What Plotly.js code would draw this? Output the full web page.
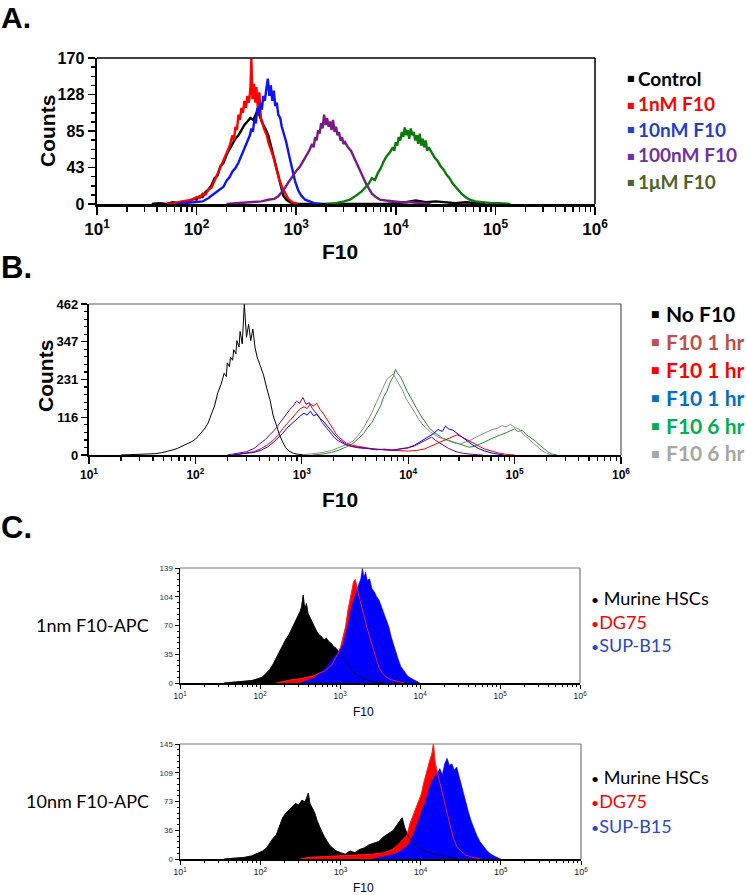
<!DOCTYPE html>
<html>
<head>
<meta charset="utf-8">
<script src="https://cdn.plot.ly/plotly-3.0.1.min.js"></script>
<style>html,body{margin:0;padding:0;background:#fff;}#chart{width:746px;height:895px;}</style>
</head>
<body>
<div id="chart"></div>
<script>
// ---------- DATA (x = log10(F10), y = counts) ----------
// Panel A
const A_control = [[1.55,0],[1.62,1],[1.70,0],[1.76,2],[1.82,1],[1.88,3],[1.94,4],[1.97,6],[2.00,5],[2.03,9],[2.06,8],[2.09,14],[2.12,17],[2.15,22],[2.18,30],[2.21,33],[2.24,44],[2.27,48],[2.30,57],[2.33,64],[2.36,70],[2.39,76],[2.42,80],[2.45,86],[2.48,92],[2.51,96],[2.54,100],[2.57,98],[2.60,106],[2.63,104],[2.66,94],[2.69,88],[2.72,80],[2.75,66],[2.78,52],[2.81,36],[2.84,22],[2.87,10],[2.90,5],[2.94,2],[3.00,0],[3.90,0],[4.00,1],[4.10,2],[4.20,4],[4.30,2],[4.40,3],[4.50,2],[4.60,1],[4.70,2],[4.80,1],[4.90,0]];
const A_1nM = [[1.70,0],[1.78,1],[1.85,3],[1.92,4],[1.97,6],[2.00,8],[2.03,7],[2.06,12],[2.09,11],[2.12,17],[2.15,19],[2.18,27],[2.21,33],[2.24,41],[2.27,49],[2.30,58],[2.33,67],[2.36,80],[2.375,74],[2.39,90],[2.405,86],[2.42,104],[2.435,98],[2.45,112],[2.465,106],[2.48,120],[2.495,112],[2.51,126],[2.525,118],[2.54,134],[2.55,169],[2.56,122],[2.575,140],[2.59,118],[2.60,136],[2.615,112],[2.63,130],[2.645,100],[2.66,96],[2.675,88],[2.69,84],[2.705,80],[2.72,72],[2.735,68],[2.75,62],[2.77,55],[2.80,40],[2.83,28],[2.86,19],[2.89,12],[2.92,6],[2.96,2],[3.02,0]];
const A_10nM = [[1.80,0],[1.90,1],[2.00,2],[2.06,3],[2.12,7],[2.18,12],[2.24,18],[2.27,20],[2.30,27],[2.33,31],[2.36,38],[2.39,42],[2.42,48],[2.45,56],[2.48,64],[2.51,72],[2.535,80],[2.55,88],[2.565,84],[2.58,98],[2.595,94],[2.61,112],[2.625,104],[2.64,118],[2.655,110],[2.67,126],[2.685,120],[2.70,134],[2.715,146],[2.73,126],[2.745,138],[2.76,120],[2.775,132],[2.79,114],[2.805,118],[2.82,104],[2.84,100],[2.855,90],[2.87,84],[2.885,78],[2.90,72],[2.93,56],[2.96,40],[2.99,26],[3.02,16],[3.05,10],[3.09,5],[3.13,3],[3.18,1],[3.25,0]];
const A_100nM = [[2.30,0],[2.45,1],[2.55,2],[2.65,3],[2.72,5],[2.78,6],[2.82,9],[2.86,14],[2.89,19],[2.92,25],[2.95,30],[2.98,36],[3.01,40],[3.04,44],[3.07,50],[3.10,55],[3.13,62],[3.16,70],[3.175,66],[3.19,78],[3.205,74],[3.22,86],[3.235,82],[3.25,94],[3.265,88],[3.28,104],[3.295,92],[3.31,100],[3.325,90],[3.34,96],[3.355,86],[3.37,98],[3.385,84],[3.40,90],[3.415,80],[3.43,84],[3.445,74],[3.46,78],[3.475,70],[3.49,72],[3.52,66],[3.55,62],[3.58,54],[3.61,48],[3.64,40],[3.67,32],[3.70,24],[3.73,18],[3.76,12],[3.80,8],[3.84,5],[3.90,4],[3.96,3],[4.05,2],[4.15,2],[4.25,1],[4.35,0]];
const A_1uM = [[3.30,0],[3.40,1],[3.48,3],[3.54,5],[3.58,8],[3.62,11],[3.66,15],[3.70,20],[3.73,24],[3.76,30],[3.79,28],[3.82,36],[3.85,42],[3.88,50],[3.91,56],[3.94,60],[3.97,66],[3.985,62],[4.00,72],[4.015,68],[4.03,78],[4.045,74],[4.06,84],[4.075,78],[4.09,89],[4.105,80],[4.12,86],[4.135,76],[4.15,88],[4.165,80],[4.18,84],[4.195,74],[4.21,80],[4.225,70],[4.24,82],[4.255,68],[4.27,76],[4.285,66],[4.30,74],[4.315,62],[4.33,66],[4.36,60],[4.39,54],[4.42,50],[4.45,44],[4.48,40],[4.51,34],[4.54,30],[4.57,24],[4.60,20],[4.63,16],[4.66,12],[4.70,8],[4.74,5],[4.80,3],[4.88,2],[4.96,1],[5.05,1],[5.15,0]];

// Panel B
const B_noF10 = [[1.30,0],[1.45,1],[1.55,2],[1.62,4],[1.68,7],[1.73,10],[1.78,15],[1.83,20],[1.88,27],[1.92,33],[1.96,40],[2.00,48],[2.03,58],[2.06,70],[2.09,82],[2.12,98],[2.15,125],[2.18,150],[2.21,190],[2.24,215],[2.27,250],[2.29,240],[2.30,282],[2.32,270],[2.33,300],[2.35,290],[2.36,322],[2.38,310],[2.39,350],[2.41,330],[2.42,378],[2.44,340],[2.46,462],[2.48,360],[2.50,400],[2.52,350],[2.54,385],[2.56,330],[2.58,300],[2.61,275],[2.64,245],[2.67,205],[2.70,170],[2.73,122],[2.76,90],[2.79,62],[2.82,40],[2.85,22],[2.88,12],[2.92,5],[2.97,2],[3.05,0]];
const B_1hr_a = [[2.30,0],[2.40,5],[2.48,10],[2.55,20],[2.61,35],[2.66,48],[2.70,62],[2.74,75],[2.78,92],[2.82,110],[2.86,125],[2.89,140],[2.92,150],[2.95,165],[2.98,158],[3.01,176],[3.04,155],[3.07,160],[3.10,142],[3.13,130],[3.16,118],[3.19,100],[3.22,88],[3.25,75],[3.28,62],[3.31,52],[3.34,44],[3.38,36],[3.42,30],[3.48,26],[3.55,22],[3.62,20],[3.70,16],[3.78,18],[3.86,14],[3.94,20],[4.00,22],[4.06,28],[4.12,38],[4.18,48],[4.22,55],[4.26,44],[4.32,32],[4.38,20],[4.45,10],[4.52,5],[4.60,2],[4.70,0]];
const B_1hr_b = [[2.35,0],[2.45,4],[2.55,10],[2.62,20],[2.68,32],[2.73,45],[2.78,62],[2.82,80],[2.86,95],[2.90,110],[2.94,125],[2.98,140],[3.02,148],[3.05,142],[3.08,156],[3.11,150],[3.14,158],[3.17,140],[3.20,128],[3.23,112],[3.26,98],[3.29,82],[3.32,66],[3.35,54],[3.38,45],[3.42,36],[3.47,30],[3.53,26],[3.60,22],[3.68,18],[3.76,16],[3.84,14],[3.92,12],[4.00,12],[4.08,14],[4.15,18],[4.22,28],[4.28,36],[4.34,45],[4.40,52],[4.46,62],[4.50,56],[4.55,48],[4.60,38],[4.66,28],[4.72,18],[4.78,12],[4.85,6],[4.92,2],[5.00,0]];
const B_1hr_c = [[2.35,0],[2.45,3],[2.55,8],[2.62,15],[2.68,25],[2.73,38],[2.78,52],[2.82,66],[2.86,82],[2.90,95],[2.94,108],[2.98,118],[3.02,128],[3.05,122],[3.08,134],[3.11,120],[3.14,124],[3.17,112],[3.20,104],[3.23,92],[3.26,82],[3.29,70],[3.32,58],[3.35,48],[3.38,40],[3.42,32],[3.47,26],[3.53,22],[3.60,20],[3.68,18],[3.76,17],[3.84,15],[3.92,18],[4.00,22],[4.06,30],[4.12,42],[4.18,55],[4.24,66],[4.28,78],[4.32,72],[4.35,88],[4.38,80],[4.42,76],[4.46,66],[4.50,55],[4.55,42],[4.60,32],[4.66,20],[4.72,12],[4.80,5],[4.90,0]];
const B_6hr_a = [[3.10,0],[3.20,3],[3.28,8],[3.35,15],[3.42,25],[3.48,35],[3.53,50],[3.58,65],[3.62,85],[3.66,100],[3.70,125],[3.74,150],[3.77,178],[3.80,195],[3.83,222],[3.86,240],[3.88,262],[3.90,250],[3.93,238],[3.96,215],[3.99,195],[4.02,178],[4.05,162],[4.08,142],[4.11,125],[4.14,110],[4.17,96],[4.20,82],[4.24,70],[4.28,60],[4.32,52],[4.37,46],[4.42,40],[4.47,34],[4.52,28],[4.57,24],[4.62,26],[4.67,32],[4.72,40],[4.77,48],[4.82,56],[4.87,62],[4.92,68],[4.96,74],[5.00,80],[5.03,72],[5.07,76],[5.11,62],[5.15,54],[5.19,44],[5.23,32],[5.27,20],[5.31,10],[5.35,3],[5.40,0]];
const B_6hr_b = [[3.00,0],[3.10,4],[3.20,8],[3.28,14],[3.35,22],[3.42,32],[3.48,42],[3.53,60],[3.58,82],[3.62,105],[3.66,130],[3.70,160],[3.74,190],[3.77,215],[3.80,232],[3.83,240],[3.86,248],[3.89,230],[3.92,212],[3.95,196],[3.98,172],[4.01,158],[4.04,140],[4.07,126],[4.10,108],[4.13,95],[4.17,82],[4.21,70],[4.25,62],[4.29,54],[4.34,48],[4.39,42],[4.44,36],[4.49,34],[4.54,40],[4.59,46],[4.64,55],[4.69,62],[4.74,70],[4.79,78],[4.84,82],[4.88,90],[4.92,86],[4.96,94],[5.00,84],[5.04,80],[5.08,64],[5.12,52],[5.16,40],[5.20,28],[5.25,15],[5.30,5],[5.35,0]];

// Panel C, 1 nM
const C1_HSC = [[1.55,0],[1.70,1],[1.80,2],[1.90,3],[1.97,5],[2.03,7],[2.08,12],[2.12,16],[2.16,22],[2.20,30],[2.24,36],[2.28,44],[2.32,52],[2.36,58],[2.40,66],[2.44,72],[2.47,80],[2.50,86],[2.52,92],[2.54,106],[2.56,88],[2.58,96],[2.60,84],[2.62,80],[2.65,74],[2.68,66],[2.71,62],[2.74,58],[2.77,56],[2.80,52],[2.83,54],[2.86,50],[2.89,48],[2.92,44],[2.95,42],[2.98,38],[3.01,34],[3.04,30],[3.08,24],[3.12,18],[3.16,14],[3.20,10],[3.25,7],[3.30,5],[3.36,3],[3.45,1],[3.55,0]];
const C1_DG75 = [[2.20,0],[2.30,2],[2.40,4],[2.50,5],[2.60,7],[2.68,9],[2.74,12],[2.80,14],[2.85,18],[2.90,22],[2.94,30],[2.98,36],[3.01,44],[3.04,56],[3.07,68],[3.10,88],[3.13,104],[3.15,110],[3.17,122],[3.19,125],[3.21,118],[3.23,108],[3.25,100],[3.28,88],[3.31,76],[3.34,66],[3.37,56],[3.40,46],[3.43,36],[3.46,26],[3.49,18],[3.53,12],[3.58,7],[3.64,4],[3.72,2],[3.80,0]];
const C1_SUPB15 = [[2.50,0],[2.60,3],[2.68,6],[2.75,12],[2.80,16],[2.85,22],[2.90,28],[2.95,34],[3.00,40],[3.04,46],[3.08,62],[3.11,74],[3.14,90],[3.17,100],[3.20,108],[3.23,118],[3.26,126],[3.28,139],[3.30,128],[3.32,134],[3.34,124],[3.37,126],[3.40,114],[3.43,110],[3.46,104],[3.49,100],[3.52,92],[3.55,84],[3.58,76],[3.61,68],[3.64,56],[3.67,46],[3.70,38],[3.73,28],[3.76,20],[3.80,14],[3.85,8],[3.90,5],[3.95,2],[4.00,0]];

// Panel C, 10 nM
const C2_HSC = [[1.55,0],[1.70,1],[1.80,2],[1.90,4],[1.97,7],[2.03,10],[2.08,14],[2.12,20],[2.16,26],[2.20,30],[2.24,40],[2.28,52],[2.32,58],[2.36,62],[2.40,66],[2.44,70],[2.48,68],[2.52,74],[2.56,72],[2.60,83],[2.62,70],[2.65,64],[2.68,58],[2.71,48],[2.74,40],[2.77,34],[2.80,28],[2.83,22],[2.86,18],[2.90,14],[2.95,10],[3.00,8],[3.06,6],[3.12,10],[3.18,8],[3.24,12],[3.30,14],[3.36,18],[3.42,20],[3.48,22],[3.54,28],[3.60,32],[3.66,36],[3.70,42],[3.74,48],[3.77,52],[3.80,40],[3.84,30],[3.88,24],[3.93,18],[3.98,14],[4.04,10],[4.10,8],[4.18,6],[4.26,4],[4.35,2],[4.45,0]];
const C2_DG75 = [[2.50,0],[2.60,2],[2.80,3],[3.00,4],[3.20,5],[3.40,6],[3.55,8],[3.65,12],[3.72,18],[3.78,24],[3.83,30],[3.87,45],[3.91,56],[3.95,66],[3.98,76],[4.01,82],[4.04,96],[4.07,108],[4.10,118],[4.12,126],[4.14,132],[4.16,145],[4.18,122],[4.20,112],[4.23,100],[4.26,88],[4.29,74],[4.32,62],[4.35,50],[4.38,38],[4.41,26],[4.45,16],[4.50,10],[4.56,5],[4.65,2],[4.75,0]];
const C2_SUPB15 = [[3.40,0],[3.50,2],[3.60,4],[3.68,6],[3.75,10],[3.80,14],[3.85,18],[3.90,28],[3.94,38],[3.98,50],[4.02,62],[4.06,72],[4.10,86],[4.14,98],[4.18,104],[4.21,110],[4.24,114],[4.27,106],[4.30,120],[4.33,127],[4.36,118],[4.39,120],[4.42,112],[4.45,116],[4.48,104],[4.51,94],[4.54,82],[4.57,70],[4.60,58],[4.63,48],[4.66,40],[4.70,30],[4.74,22],[4.78,16],[4.83,10],[4.88,6],[4.93,3],[5.00,0]];

// Tick labels
const decadeVals = [1e1,1e2,1e3,1e4,1e5,1e6];
const decadeText = ['10<sup>1</sup>','10<sup>2</sup>','10<sup>3</sup>','10<sup>4</sup>','10<sup>5</sup>','10<sup>6</sup>'];
const A_yVals = [0,42.5,85,127.5,170], A_yText = ['0','43','85','128','170'];
const B_yVals = [0,115.5,231,346.5,462], B_yText = ['0','116','231','347','462'];
const C1_yVals = [0,34.75,69.5,104.25,139], C1_yText = ['0','35','70','104','139'];
const C2_yVals = [0,36.25,72.5,108.75,145], C2_yText = ['0','36','73','109','145'];

// ---------- BUILD ----------
const W = 746, H = 895;
const px = x => x / W, py = y => 1 - y / H;
const X = s => s.map(p => Math.pow(10, p[0]));
const Y = s => s.map(p => p[1]);
const minorVals = [];
for (let d = 1; d <= 5; d++) for (let k = 2; k <= 9; k++) minorVals.push(k * Math.pow(10, d));

function line(s, color, width, xa, ya) {
  return {x: X(s), y: Y(s), type: 'scatter', mode: 'lines', xaxis: xa, yaxis: ya,
          line: {color: color, width: width}, hoverinfo: 'skip', showlegend: false};
}
function filled(s, color, xa, ya) {
  return {x: X(s), y: Y(s), type: 'scatter', mode: 'lines', xaxis: xa, yaxis: ya, fill: 'tozeroy',
          fillcolor: color, line: {color: color, width: 0.6}, hoverinfo: 'skip', showlegend: false};
}

const traces = [
  line(A_control, '#000000', 2.4, 'x', 'y'),
  line(A_1nM, '#ff0000', 2.4, 'x', 'y'),
  line(A_10nM, '#0a14ff', 2.4, 'x', 'y'),
  line(A_100nM, '#7a1a86', 2.4, 'x', 'y'),
  line(A_1uM, '#0b7a0b', 2.4, 'x', 'y'),

  line(B_noF10, '#000000', 1, 'x2', 'y2'),
  line(B_6hr_a, '#2a8a2a', 1, 'x2', 'y2'),
  line(B_6hr_b, '#8c8c8c', 1, 'x2', 'y2'),
  line(B_1hr_b, '#ff0000', 1, 'x2', 'y2'),
  line(B_1hr_c, '#0000ff', 1, 'x2', 'y2'),
  line(B_1hr_a, '#800080', 1, 'x2', 'y2'),

  filled(C1_HSC, '#000000', 'x3', 'y3'),
  filled(C1_DG75, '#ff0000', 'x3', 'y3'),
  filled(C1_SUPB15, '#0000ff', 'x3', 'y3'),
  line(C1_HSC, '#000000', 0.8, 'x3', 'y3'),
  line(C1_DG75, '#ff2020', 0.9, 'x3', 'y3'),

  filled(C2_HSC, '#000000', 'x4', 'y4'),
  filled(C2_DG75, '#ff0000', 'x4', 'y4'),
  filled(C2_SUPB15, '#0000ff', 'x4', 'y4'),
  line(C2_HSC, '#000000', 0.8, 'x4', 'y4'),
  line(C2_DG75, '#ff2020', 0.9, 'x4', 'y4')
];

const SANS = 'Liberation Sans, Arial, sans-serif';
const NARROW = 'Liberation Sans Narrow, Arial Narrow, Liberation Sans, sans-serif';
const CAL = 'Lato, Carlito, Calibri, sans-serif';

function xAx(x0, x1, anchor, o) {
  return {domain: [px(x0), px(x1)], anchor: anchor, type: 'log', range: [1, 6],
    showline: true, linecolor: '#000', linewidth: o.lw, mirror: false,
    ticks: 'outside', ticklen: o.tl, tickwidth: o.tw, tickcolor: '#000',
    tickmode: 'array', tickvals: decadeVals, ticktext: decadeText, tickfont: o.font,
    minor: {tickmode: 'array', tickvals: minorVals, ticks: 'outside', ticklen: o.mtl, tickwidth: o.tw, tickcolor: '#000', showgrid: false},
    showgrid: false, zeroline: false, fixedrange: true};
}
function yAx(y0, y1, anchor, range, vals, text, mstep, o) {
  return {domain: [py(y1), py(y0)], anchor: anchor, range: range,
    showline: true, linecolor: '#000', linewidth: o.lw,
    ticks: 'outside', ticklen: o.tl, tickwidth: o.tw, tickcolor: '#000',
    tickmode: 'array', tickvals: vals, ticktext: text, tickfont: o.font,
    minor: {tickmode: 'linear', tick0: 0, dtick: mstep, ticks: 'outside', ticklen: o.mtl, tickwidth: o.tw, tickcolor: '#000', showgrid: false},
    showgrid: false, zeroline: false, fixedrange: true};
}

const layout = {
  width: W, height: H, margin: {l: 0, r: 0, t: 0, b: 0},
  paper_bgcolor: '#fff', plot_bgcolor: '#fff', showlegend: false,
  xaxis: xAx(97, 595, 'y', {lw: 2.5, tl: 8, mtl: 5, tw: 1.5, font: {family: SANS, size: 17, color: '#000', weight: 'bold'}}),
  yaxis: yAx(58, 204, 'x', [0, 170], A_yVals, A_yText, 10.625, {lw: 2.5, tl: 7, mtl: 4, tw: 1.5, font: {family: SANS, size: 16, color: '#000', weight: 'bold'}}),
  xaxis2: xAx(89, 621, 'y2', {lw: 2.2, tl: 7, mtl: 4, tw: 1.2, font: {family: SANS, size: 12, color: '#000', weight: 'bold'}}),
  yaxis2: yAx(304, 455, 'x2', [0, 462], B_yVals, B_yText, 23.1, {lw: 2.2, tl: 6, mtl: 3, tw: 1.2, font: {family: NARROW, size: 13, color: '#000', weight: 'bold'}}),
  xaxis3: xAx(180, 580, 'y3', {lw: 1.5, tl: 4, mtl: 2, tw: 1, font: {family: SANS, size: 9, color: '#222'}}),
  yaxis3: yAx(568, 683, 'x3', [0, 139], C1_yVals, C1_yText, 6.95, {lw: 1.5, tl: 4, mtl: 2, tw: 1, font: {family: SANS, size: 8, color: '#333'}}),
  xaxis4: xAx(180, 581, 'y4', {lw: 1.5, tl: 4, mtl: 2, tw: 1, font: {family: SANS, size: 9, color: '#222'}}),
  yaxis4: yAx(744, 859, 'x4', [0, 145], C2_yVals, C2_yText, 7.25, {lw: 1.5, tl: 4, mtl: 2, tw: 1, font: {family: SANS, size: 8, color: '#333'}}),
  shapes: [],
  annotations: []
};

// top / right frame lines
[['x', 'y', '#000', 1.5], ['x2', 'y2', '#555', 1.2], ['x3', 'y3', '#777', 1.2], ['x4', 'y4', '#777', 1.2]].forEach(([xa, ya, c, w]) => {
  layout.shapes.push({type: 'line', xref: xa + ' domain', yref: ya + ' domain', x0: 0, x1: 1, y0: 1, y1: 1, line: {color: c, width: w}});
  layout.shapes.push({type: 'line', xref: xa + ' domain', yref: ya + ' domain', x0: 1, x1: 1, y0: 0, y1: 1, line: {color: c, width: w}});
});

function ann(text, x, y, o) {
  layout.annotations.push(Object.assign({text: text, xref: 'paper', yref: 'paper', x: px(x), y: py(y),
    xanchor: 'center', yanchor: 'middle', showarrow: false, borderpad: 0,
    font: {family: SANS, size: 14, color: '#000'}}, o || {}));
}

// panel letters
ann('<b>A.</b>', 0, 17, {xanchor: 'left', font: {family: SANS, size: 30, color: '#000'}});
ann('<b>B.</b>', 0, 267, {xanchor: 'left', font: {family: SANS, size: 31, color: '#000'}});
ann('<b>C.</b>', 0, 527, {xanchor: 'left', font: {family: SANS, size: 31, color: '#000'}});

// axis titles
ann('<b>Counts</b>', 47, 131, {textangle: -90, font: {family: SANS, size: 21, color: '#000'}});
ann('<b>F10</b>', 340, 252, {font: {family: SANS, size: 21, color: '#000'}});
ann('<b>Counts</b>', 45, 376, {textangle: -90, font: {family: SANS, size: 21, color: '#000'}});
ann('<b>F10</b>', 340, 500, {font: {family: SANS, size: 21, color: '#000'}});
ann('F10', 363, 712, {font: {family: SANS, size: 12, color: '#000'}});
ann('F10', 363, 888, {font: {family: SANS, size: 12, color: '#000'}});

// Legend A
const legA = [['Control', '#000000', 78], ['1nM F10', '#ff0000', 104], ['10nM F10', '#1f3fd0', 129], ['100nM F10', '#7030a0', 155], ['1μM F10', '#4f6228', 181]];
legA.forEach(([t, c, y]) => {
  ann('■', 631, y + 1, {font: {family: 'DejaVu Sans', size: 8, color: c}});
  ann('<b>' + t + '</b>', 637, y, {xanchor: 'left', font: {family: CAL, size: 19, color: c}});
});
// Legend B
const legB = [['No F10', '#000000', 313], ['F10 1 hr', '#c0504d', 341], ['F10 1 hr', '#ff0000', 369], ['F10 1 hr', '#0070c0', 397], ['F10 6 hr', '#00b050', 425], ['F10 6 hr', '#a6a6a6', 453]];
legB.forEach(([t, c, y]) => {
  ann('■', 655, y + 1, {font: {family: 'DejaVu Sans', size: 9, color: c}});
  ann('<b>' + t + '</b>', 665, y, {xanchor: 'left', font: {family: CAL, size: 21, color: c}});
});
// Panel C labels and legends
ann('1nm F10-APC', 150, 625, {xanchor: 'right', font: {family: CAL, size: 18, color: '#000'}});
ann('10nm F10-APC', 150, 801, {xanchor: 'right', font: {family: CAL, size: 18, color: '#000'}});
const dot = '<span style="font-size:14px">•</span>';
[[598, 622, 645], [777, 801, 826]].forEach(ys => {
  ann(dot + ' Murine HSCs', 590, ys[0], {xanchor: 'left', font: {family: CAL, size: 18, color: '#000'}});
  ann(dot + 'DG75', 590, ys[1], {xanchor: 'left', font: {family: CAL, size: 18, color: '#ff0000'}});
  ann(dot + 'SUP-B15', 590, ys[2], {xanchor: 'left', font: {family: CAL, size: 18, color: '#2a48c8'}});
});

Plotly.newPlot('chart', traces, layout, {staticPlot: true, displayModeBar: false});
</script>
</body>
</html>
